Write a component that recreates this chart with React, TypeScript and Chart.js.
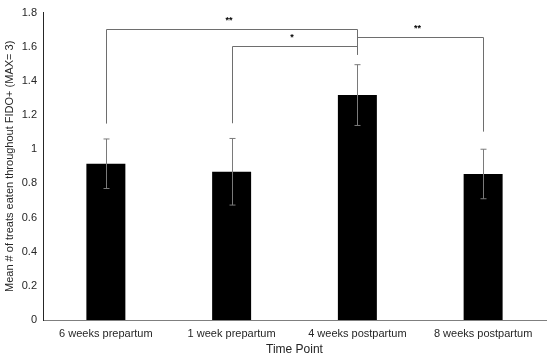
import React, { useEffect, useRef } from "react";
import { Chart, registerables } from "chart.js";

Chart.register(...registerables);

const categories = ["6 weeks prepartum", "1 week prepartum", "4 weeks postpartum", "8 weeks postpartum"];
const means = [0.915, 0.868, 1.317, 0.855];
const errors = [0.145, 0.195, 0.178, 0.145];
const yTicks = [0, 0.2, 0.4, 0.6, 0.8, 1, 1.2, 1.4, 1.6, 1.8];
// significance brackets
const bracketFrom = [0, 1, 2];
const bracketTo = [2, 2, 3];
const bracketLevel = [1.703, 1.605, 1.655];
const bracketLeftEnd = [1.15, 1.152, 1.655];
const bracketRightEnd = [1.552, 1.605, 1.103];
const bracketLabels = ["**", "*", "**"];

const overlayPlugin = {
  id: "overlay",
  afterDatasetsDraw(chart: any) {
    const ctx = chart.ctx;
    const x = chart.scales.x;
    const y = chart.scales.y;
    ctx.save();
    ctx.strokeStyle = "#7a7a7a";
    ctx.lineWidth = 1;
    means.forEach((m, i) => {
      const cx = Math.round(x.getPixelForValue(i)) + 0.5;
      const top = y.getPixelForValue(m + errors[i]);
      const bot = y.getPixelForValue(m - errors[i]);
      ctx.beginPath();
      ctx.moveTo(cx, top);
      ctx.lineTo(cx, bot);
      ctx.moveTo(cx - 3, top);
      ctx.lineTo(cx + 3, top);
      ctx.moveTo(cx - 3, bot);
      ctx.lineTo(cx + 3, bot);
      ctx.stroke();
    });
    ctx.strokeStyle = "#6e6e6e";
    bracketFrom.forEach((f, i) => {
      const x1 = Math.round(x.getPixelForValue(f)) + 0.5;
      const x2 = Math.round(x.getPixelForValue(bracketTo[i])) + 0.5;
      const yl = Math.round(y.getPixelForValue(bracketLevel[i])) + 0.5;
      ctx.beginPath();
      ctx.moveTo(x1, y.getPixelForValue(bracketLeftEnd[i]));
      ctx.lineTo(x1, yl);
      ctx.lineTo(x2, yl);
      ctx.lineTo(x2, y.getPixelForValue(bracketRightEnd[i]));
      ctx.stroke();
      ctx.fillStyle = "#000";
      ctx.font = "bold 9px 'Liberation Sans', Arial, sans-serif";
      ctx.textAlign = "center";
      ctx.textBaseline = "bottom";
      ctx.fillText(bracketLabels[i], (x1 + x2) / 2 - 3, yl - 4);
    });
    ctx.restore();
  },
};

export default function App() {
  const ref = useRef<HTMLCanvasElement>(null);
  useEffect(() => {
    const chart = new Chart(ref.current!, {
      type: "bar",
      data: {
        labels: categories,
        datasets: [
          {
            data: means,
            backgroundColor: "#000000",
            borderWidth: 0,
            barPercentage: 0.31,
            categoryPercentage: 1,
          },
        ],
      },
      options: {
        animation: false,
        responsive: false,
        layout: { padding: { top: 2, right: 4, left: 0, bottom: 0 } },
        plugins: { legend: { display: false }, tooltip: { enabled: false } },
        scales: {
          x: {
            grid: { display: false, drawTicks: false },
            border: { display: true, color: "#7f7f7f", width: 1 },
            ticks: {
              color: "#262626",
              font: { family: "'Liberation Sans', Arial, sans-serif", size: 11 },
              padding: 7,
              maxRotation: 0,
            },
            title: {
              display: true,
              text: "Time Point",
              color: "#262626",
              font: { family: "'Liberation Sans', Arial, sans-serif", size: 12 },
              padding: { top: 2, bottom: 0 },
            },
            afterFit: (s: any) => {
              s.height = 37;
            },
          },
          y: {
            min: 0,
            max: 1.8,
            afterBuildTicks: (s: any) => {
              s.ticks = yTicks.map((v) => ({ value: v }));
            },
            grid: { display: false, drawTicks: false },
            border: { display: true, color: "#262626", width: 1 },
            ticks: {
              color: "#262626",
              font: { family: "'Liberation Sans', Arial, sans-serif", size: 11 },
              padding: 6,
              callback: (v: any) => String(Math.round(Number(v) * 10) / 10),
            },
            title: {
              display: true,
              text: "Mean # of treats eaten throughout FIDO+ (MAX= 3)",
              color: "#262626",
              font: { family: "'Liberation Sans', Arial, sans-serif", size: 11 },
              padding: { top: 3, bottom: 1 },
            },
            afterFit: (s: any) => {
              s.width = 43;
            },
          },
        },
      },
      plugins: [overlayPlugin],
    });
    return () => chart.destroy();
  }, []);
  return (
    <div style={{ position: "absolute", left: 0, top: 0, width: 550, height: 357, background: "#fff" }}>
      <canvas ref={ref} width={550} height={357} />
    </div>
  );
}
